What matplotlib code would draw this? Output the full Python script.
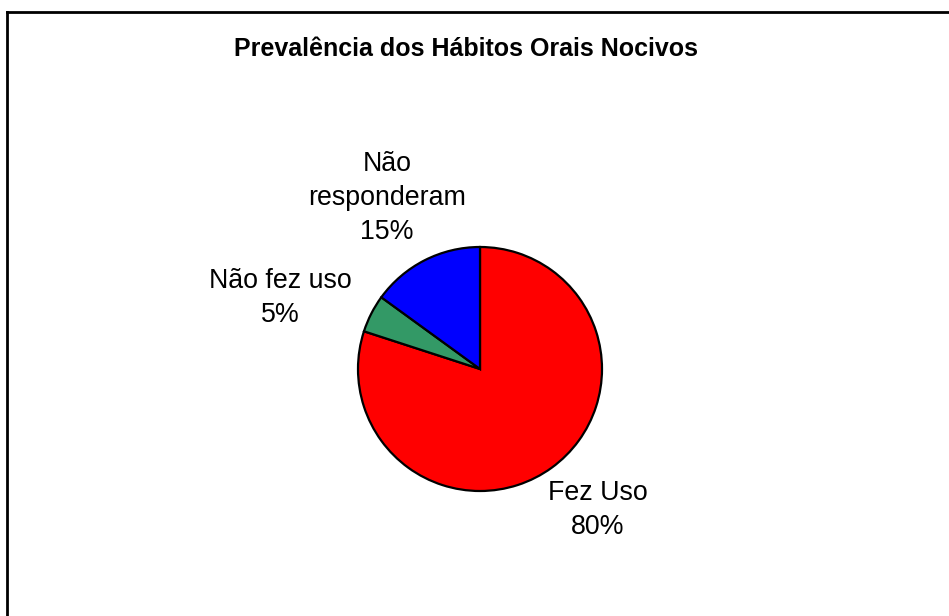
import matplotlib.pyplot as plt
from matplotlib.lines import Line2D

# data (clockwise from 12 o'clock)
categories = ['Fez Uso', 'Não fez uso', 'Não\nresponderam']
shares = [80, 5, 15]
colors = ['#FF0000', '#339966', '#0000FF']

W, H = 949, 616
fig = plt.figure(figsize=(W / 100, H / 100), dpi=100)
plt.rcParams['font.family'] = ['Liberation Sans', 'DejaVu Sans']

# pie centre (480, 369) px, radius 122 px
cx, cy, r = 480, 369, 122
ax = fig.add_axes([(cx - r) / W, (H - cy - r) / H, 2 * r / W, 2 * r / H])
ax.pie(shares, colors=colors, startangle=90, counterclock=False,
       wedgeprops={'edgecolor': 'black', 'linewidth': 1.6})
ax.set_xlim(-1, 1)
ax.set_ylim(-1, 1)
ax.set_aspect('equal')
ax.axis('off')

# label centres in pixels
label_px = [(598, 510), (280, 298), (387, 198)]
for name, val, (px, py) in zip(categories, shares, label_px):
    fig.text(px / W, 1 - py / H, f'{name}\n{val}%', ha='center', va='center',
             fontsize=19.3, linespacing=1.42)

fig.text(466 / W, 1 - 49 / H, 'Prevalência dos Hábitos Orais Nocivos',
         ha='center', va='center', fontsize=18, fontweight='bold')

# chart frame (right and bottom edges fall outside the image)
fig.add_artist(Line2D([7 / W, 1.0], [1 - 12 / H, 1 - 12 / H], color='black', lw=2))
fig.add_artist(Line2D([7 / W, 7 / W], [1 - 12 / H, 0.0], color='black', lw=2))

fig.savefig('out.png', dpi=100)
